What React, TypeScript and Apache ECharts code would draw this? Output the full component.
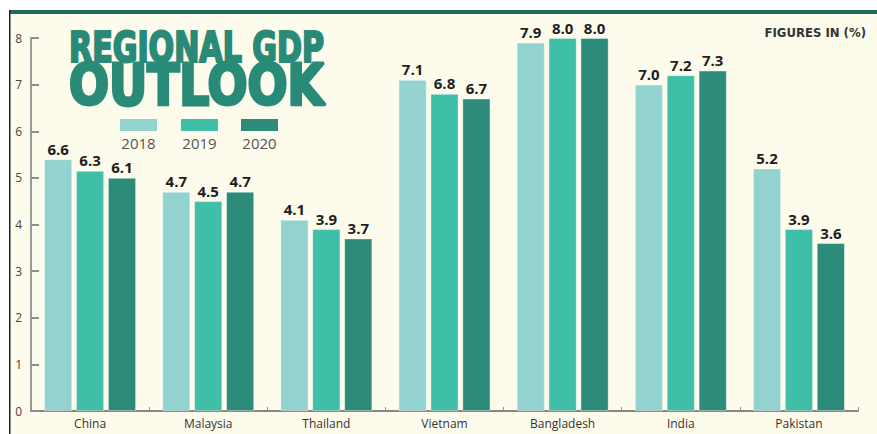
import React, { useEffect, useRef } from "react";
import * as echarts from "echarts";

const countries = ["China", "Malaysia", "Thailand", "Vietnam", "Bangladesh", "India", "Pakistan"];
const years = ["2018", "2019", "2020"];
// printed figures
const labels2018 = ["6.6", "4.7", "4.1", "7.1", "7.9", "7.0", "5.2"];
const labels2019 = ["6.3", "4.5", "3.9", "6.8", "8.0", "7.2", "3.9"];
const labels2020 = ["6.1", "4.7", "3.7", "6.7", "8.0", "7.3", "3.6"];
// bar heights as drawn in the graphic (China's bars are drawn lower than their figures)
const bars2018 = [5.4, 4.7, 4.1, 7.1, 7.9, 7.0, 5.2];
const bars2019 = [5.15, 4.5, 3.9, 6.8, 8.0, 7.2, 3.9];
const bars2020 = [5.0, 4.7, 3.7, 6.7, 8.0, 7.3, 3.6];
const yTicks = [0, 1, 2, 3, 4, 5, 6, 7, 8];
const colors = ["#93d3cf", "#3fbea8", "#2d8c79"];
const titleColor = "#2a8a78";

function measure(text: string, font: string): number {
  const c = document.createElement("canvas").getContext("2d");
  if (!c) return text.length * 10;
  c.font = font;
  return c.measureText(text).width;
}

export default function App() {
  const ref = useRef<HTMLDivElement>(null);
  useEffect(() => {
    if (!ref.current) return;
    const chart = echarts.init(ref.current, undefined, { renderer: "svg" });
    const titleFont = '"DejaVu Sans Condensed", "DejaVu Sans", sans-serif';
    const narrowFont = '"Liberation Sans Narrow", "DejaVu Sans Condensed", sans-serif';
    const w1 = measure("REGIONAL GDP", `bold 43px ${titleFont}`);
    const w2 = measure("OUTLOOK", `bold 57px ${titleFont}`);
    const barData = [bars2018, bars2019, bars2020];
    const labelData = [labels2018, labels2019, labels2020];
    const legendX = [120, 181, 241];

    chart.setOption({
      animation: false,
      backgroundColor: "#ffffff",
      grid: { left: 31, right: 19, top: 38, bottom: 23, containLabel: false },
      xAxis: {
        type: "category",
        data: countries,
        axisLine: { lineStyle: { color: "#8a8580", width: 2 } },
        axisTick: { show: true, inside: true, length: 4, lineStyle: { color: "#b08a80", width: 1 } },
        axisLabel: { color: "#333", fontSize: 12, fontFamily: "Open Sans", margin: 6 },
        splitLine: { show: false },
      },
      yAxis: {
        type: "value",
        min: 0,
        max: 8,
        interval: 1,
        axisLine: { show: true, lineStyle: { color: "#9a9a9a", width: 2 } },
        axisTick: { show: true, inside: true, length: 8, lineStyle: { color: "#8f8f8f", width: 2 } },
        axisLabel: {
          color: "#444",
          fontSize: 12,
          fontFamily: "Open Sans",
          margin: 9,
          formatter: (v: number) => (yTicks.includes(v) ? String(v) : ""),
        },
        splitLine: { show: false },
      },
      series: years.map((y, i) => ({
        name: y,
        type: "bar",
        barWidth: 28,
        barGap: "14%",
        data: barData[i],
        itemStyle: { color: colors[i], borderColor: "rgba(255,255,255,0.5)", borderWidth: 0.8 },
        label: {
          show: true,
          position: "top",
          distance: 3,
          formatter: (p: any) => labelData[i][p.dataIndex],
          color: "#1e1e1e",
          fontSize: 15,
          fontWeight: "bold",
          fontFamily: "Open Sans",
        },
      })),
      graphic: [
        { type: "rect", z: -10, silent: true, shape: { x: 9, y: 10, width: 868, height: 424 }, style: { fill: "#fdfbec" } },
        { type: "rect", z: 100, silent: true, shape: { x: 9, y: 10, width: 868, height: 4 }, style: { fill: "#1f6d5c" } },
        { type: "rect", z: 100, silent: true, shape: { x: 9, y: 10, width: 1.5, height: 424 }, style: { fill: "#222" } },
        {
          type: "text",
          z: 100,
          x: 69,
          y: 47,
          scaleX: 255 / w1,
          style: {
            text: "REGIONAL GDP",
            font: `bold 43px ${titleFont}`,
            fill: titleColor,
            stroke: titleColor,
            lineWidth: 2.2,
            verticalAlign: "middle",
            align: "left",
          },
        },
        {
          type: "text",
          z: 100,
          x: 69,
          y: 85,
          scaleX: 255 / w2,
          style: {
            text: "OUTLOOK",
            font: `bold 57px ${titleFont}`,
            fill: titleColor,
            stroke: titleColor,
            lineWidth: 3,
            verticalAlign: "middle",
            align: "left",
          },
        },
        {
          type: "text",
          z: 100,
          x: 866,
          y: 32,
          style: { text: "FIGURES IN (%)", font: `bold 13px ${narrowFont}`, fill: "#333", align: "right", verticalAlign: "middle" },
        },
        ...years.flatMap((y, i) => [
          { type: "rect", z: 100, shape: { x: legendX[i], y: 119, width: 37, height: 12 }, style: { fill: colors[i] } },
          {
            type: "text",
            z: 100,
            x: legendX[i] + 18.5,
            y: 143,
            style: { text: y, font: "15px 'Open Sans'", fill: "#555", align: "center", verticalAlign: "middle" },
          },
        ]),
      ],
    });
    return () => chart.dispose();
  }, []);
  return (
    <div style={{ position: "fixed", left: 0, top: 0, width: 877, height: 434 }}>
      <div ref={ref} style={{ width: 877, height: 434 }} />
    </div>
  );
}
